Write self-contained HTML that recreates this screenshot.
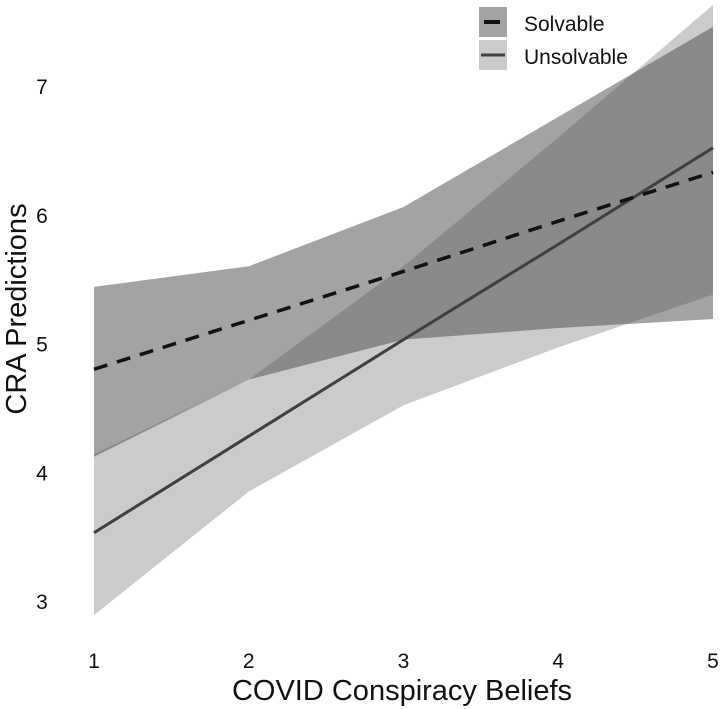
<!DOCTYPE html>
<html><head><meta charset="utf-8"><style>
html,body{margin:0;padding:0;background:#fff;}
svg{display:block;font-family:"Liberation Sans",Arial,sans-serif;}
</style></head><body>
<svg id="chart" width="722" height="709" viewBox="0 0 722 709" xmlns="http://www.w3.org/2000/svg">
<g id="bands"></g>
<g id="lines"></g>
<g id="xticks"></g>
<g id="yticks"></g>
<text x="402" y="700" font-size="29" text-anchor="middle" fill="#111">COVID Conspiracy Beliefs</text>
<text transform="translate(26,309) rotate(-90)" font-size="29" text-anchor="middle" fill="#111">CRA Predictions</text>
<g>
  <rect x="479" y="7" width="28" height="30" fill="#a3a3a3"/>
  <line x1="484" y1="22" x2="500" y2="22" stroke="#111" stroke-width="4"/>
  <rect x="479" y="40" width="28" height="30" fill="#cbcbcb"/>
  <line x1="481" y1="55" x2="505" y2="55" stroke="#404040" stroke-width="3"/>
  <text x="524" y="31" font-size="21" fill="#111">Solvable</text>
  <text x="524" y="64" font-size="21" fill="#111">Unsolvable</text>
</g>
</svg>
<script>
const categories = [1, 2, 3, 4, 5];
const solvableFit = [4.80, 5.18, 5.56, 5.95, 6.33];
const solvableUpper = [5.44, 5.60, 6.06, 6.76, 7.46];
const solvableLower = [4.12, 4.72, 5.03, 5.12, 5.19];
const unsolvableFit = [3.53, 4.28, 5.03, 5.77, 6.52];
const unsolvableUpper = [4.14, 4.72, 5.60, 6.60, 7.63];
const unsolvableLower = [2.89, 3.85, 4.52, 4.97, 5.38];
const xTickLabels = ["1", "2", "3", "4", "5"];
const yTickValues = [3, 4, 5, 6, 7];

const NS = "http://www.w3.org/2000/svg";
function xs(v){ return 94 + (v - 1) * 154.75; }
function ys(v){ return 86 + (7 - v) * 128.75; }
function mk(tag, attrs, parent){
  const e = document.createElementNS(NS, tag);
  for (const k in attrs) e.setAttribute(k, attrs[k]);
  parent.appendChild(e); return e;
}
function bandPts(up, lo){
  const a = categories.map((c,i)=>xs(c)+","+ys(up[i]));
  const b = categories.map((c,i)=>xs(c)+","+ys(lo[i])).reverse();
  return a.concat(b).join(" ");
}
function linePts(arr){ return categories.map((c,i)=>xs(c)+","+ys(arr[i])).join(" "); }

const bands = document.getElementById("bands");
const ub = mk("polygon", {points: bandPts(unsolvableUpper, unsolvableLower), fill: "#cbcbcb"}, bands);


const sb = mk("polygon", {points: bandPts(solvableUpper, solvableLower), fill: "rgb(78,78,78)", "fill-opacity": "0.52"}, bands);



const lines = document.getElementById("lines");
const ul = mk("polyline", {points: linePts(unsolvableFit), fill: "none", stroke: "#404040", "stroke-width": "3"}, lines);


const sl = mk("polyline", {points: linePts(solvableFit), fill: "none", stroke: "#111", "stroke-width": "3.5", "stroke-dasharray": "14 10"}, lines);



const xt = document.getElementById("xticks");
categories.forEach((c,i)=>{
  const t = mk("text", {x: xs(c), y: 668, "font-size": "21", "text-anchor": "middle", fill: "#111"}, xt);
  
  
  t.textContent = xTickLabels[i];
});
const yt = document.getElementById("yticks");
yTickValues.forEach(v=>{
  const t = mk("text", {x: 42, y: ys(v) + 8, "font-size": "21", "text-anchor": "middle", fill: "#111"}, yt);
  
  
  t.textContent = String(v);
});
</script>
</body></html>
